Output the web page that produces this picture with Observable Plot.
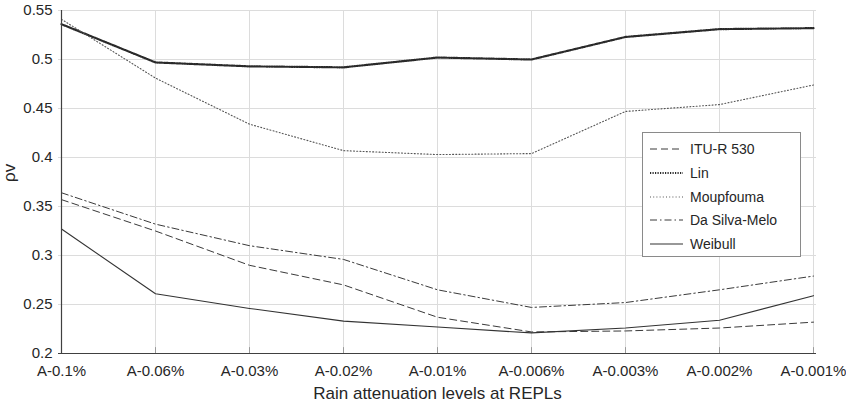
<!DOCTYPE html>
<html>
<head>
<meta charset="utf-8">
<script src="https://cdn.jsdelivr.net/npm/d3@7"></script>
<script src="https://cdn.jsdelivr.net/npm/@observablehq/plot@0.6"></script>
<style>
  body { margin: 0; background: #fff; }
  #wrap { position: relative; width: 846px; height: 404px; font-family: "Liberation Sans", Arial, sans-serif; }
  #legend { position: absolute; left: 642px; top: 132px; width: 159px; height: 125px; border: 1px solid #8a8a8a; background: #fff; box-sizing: border-box; }
  .row { position: absolute; left: 0; height: 20px; display: flex; align-items: center; }
  .row svg { margin-left: 7px; }
  .row span { margin-left: 7px; font-size: 14px; color: #262626; }
</style>
</head>
<body>
<div id="wrap"></div>
<script>
const categories = ["A-0.1%", "A-0.06%", "A-0.03%", "A-0.02%", "A-0.01%", "A-0.006%", "A-0.003%", "A-0.002%", "A-0.001%"];
const seriesNames = ["ITU-R 530", "Lin", "Moupfouma", "Da Silva-Melo", "Weibull"];
const ituR530 = [0.357, 0.325, 0.290, 0.270, 0.237, 0.222, 0.223, 0.226, 0.232];
const lin = [0.536, 0.497, 0.493, 0.492, 0.502, 0.500, 0.523, 0.531, 0.532];
const moupfouma = [0.541, 0.481, 0.434, 0.407, 0.403, 0.404, 0.447, 0.454, 0.474];
const daSilvaMelo = [0.364, 0.332, 0.310, 0.296, 0.265, 0.247, 0.252, 0.265, 0.279];
const weibull = [0.327, 0.261, 0.246, 0.233, 0.227, 0.221, 0.226, 0.234, 0.259];
const yTicks = [0.2, 0.25, 0.3, 0.35, 0.4, 0.45, 0.5, 0.55];
const xLabel = "Rain attenuation levels at REPLs";
const yLabel = "ρv";

const seriesValues = [ituR530, lin, moupfouma, daSilvaMelo, weibull];
const styles = {
  "ITU-R 530": {stroke: "#3a3a3a", strokeWidth: 1, strokeDasharray: "7,4"},
  "Lin": {stroke: "#2a2a2a", strokeWidth: 2.2, strokeDasharray: "1.2,1.3"},
  "Moupfouma": {stroke: "#555555", strokeWidth: 1.1, strokeDasharray: "1,2.2"},
  "Da Silva-Melo": {stroke: "#3a3a3a", strokeWidth: 1, strokeDasharray: "7,3,1.5,3"},
  "Weibull": {stroke: "#333333", strokeWidth: 1.1, strokeDasharray: null}
};

const lineMarks = seriesNames.map((name, i) => {
  const data = categories.map((c, j) => ({cat: c, v: seriesValues[i][j]}));
  const s = styles[name];
  const opts = {x: "cat", y: "v", stroke: s.stroke, strokeWidth: s.strokeWidth};
  if (s.strokeDasharray) opts.strokeDasharray = s.strokeDasharray;
  return Plot.line(data, opts);
});

const chart = Plot.plot({
  width: 846,
  height: 404,
  marginLeft: 58,
  marginRight: 30,
  marginTop: 10,
  marginBottom: 51,
  style: {fontFamily: "'Liberation Sans', Arial, sans-serif", fontSize: "15px", color: "#262626", background: "#fff"},
  x: {type: "point", domain: categories, padding: 0, label: null},
  y: {domain: [0.2, 0.55], label: null},
  marks: [
    Plot.gridX(categories, {stroke: "#dcdcdc", strokeOpacity: 1}),
    Plot.gridY(yTicks, {stroke: "#dcdcdc", strokeOpacity: 1}),
    Plot.ruleX(categories, {x: d => d, y1: 0.2, y2: 0.2 + 0.006, stroke: "#9a9a9a"}),
    Plot.axisX(categories, {tickSize: 0, tickPadding: 12, fontSize: 15, fill: "#262626"}),
    Plot.axisY(yTicks, {tickSize: 0, tickPadding: 6, fontSize: 15, fill: "#262626", tickFormat: d3.format("")}),
    ...lineMarks,
    Plot.ruleX([categories[0]], {stroke: "#404040", strokeWidth: 1.2}),
    Plot.ruleY([0.2], {stroke: "#404040", strokeWidth: 1.2}),
    Plot.text([xLabel], {frameAnchor: "bottom", dy: 45, fontSize: 17, fill: "#262626", text: d => d}),
    Plot.text([yLabel], {frameAnchor: "left", dx: -49, dy: 0, rotate: -90, fontSize: 17, fill: "#262626", text: d => d})
  ]
});

const wrap = document.getElementById("wrap");
wrap.appendChild(chart);

const legend = document.createElement("div");
legend.id = "legend";
seriesNames.forEach((name, i) => {
  const s = styles[name];
  const row = document.createElement("div");
  row.className = "row";
  row.style.top = (6 + i * 23.8) + "px";
  const ns = "http://www.w3.org/2000/svg";
  const svg = document.createElementNS(ns, "svg");
  svg.setAttribute("width", 33);
  svg.setAttribute("height", 10);
  const ln = document.createElementNS(ns, "line");
  ln.setAttribute("x1", 0); ln.setAttribute("x2", 33);
  ln.setAttribute("y1", 5); ln.setAttribute("y2", 5);
  ln.setAttribute("stroke", s.stroke);
  ln.setAttribute("stroke-width", s.strokeWidth);
  if (s.strokeDasharray) ln.setAttribute("stroke-dasharray", s.strokeDasharray);
  svg.appendChild(ln);
  const sp = document.createElement("span");
  sp.textContent = name;
  row.appendChild(svg);
  row.appendChild(sp);
  legend.appendChild(row);
});
wrap.appendChild(legend);
</script>
</body>
</html>
